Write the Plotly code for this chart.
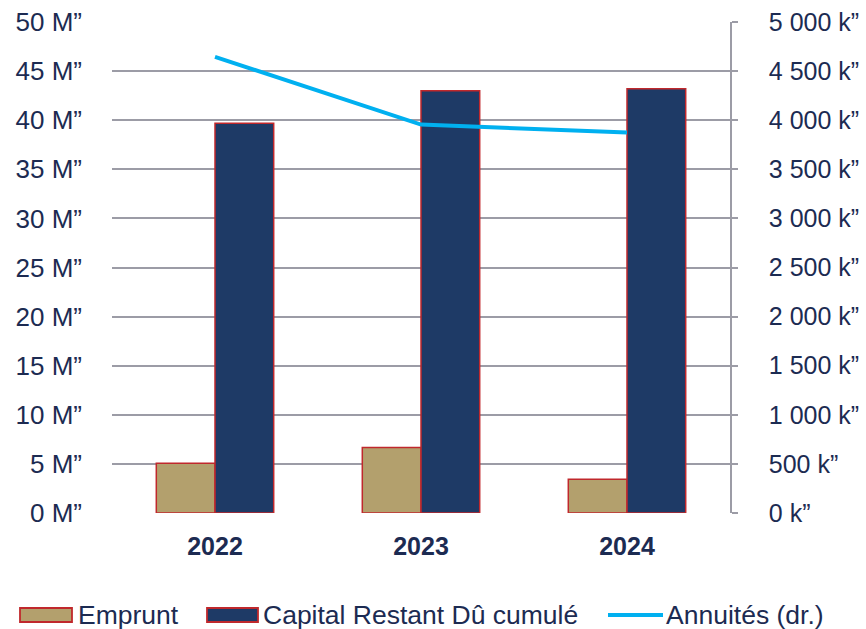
import plotly.graph_objects as go

# Données
years = ["2022", "2023", "2024"]
emprunt_m = [5.07, 6.67, 3.44]          # M€
capital_m = [39.7, 43.0, 43.2]          # M€
annuites_k = [4645, 3955, 3875]         # k€ (axe de droite)

left_ticks = [0, 5, 10, 15, 20, 25, 30, 35, 40, 45, 50]
left_labels = [f"{v} M\u201d" for v in left_ticks]
right_ticks = [0, 500, 1000, 1500, 2000, 2500, 3000, 3500, 4000, 4500, 5000]
right_labels = [f"{v:,}".replace(",", " ") + " k\u201d" for v in right_ticks]

series_names = ["Emprunt", "Capital Restant D\u00fb cumul\u00e9", "Annuit\u00e9s (dr.)"]

TEXT = "#1C2B52"
GRID = "#9C9CA6"
TAN = "#B3A06D"
NAVY = "#1E3A66"
RED = "#C0282C"
CYAN = "#00B0F0"
FONT = "Arial, Liberation Sans, sans-serif"

W, H = 866, 629
L, R, T, B = 112, 136, 22, 116

fig = go.Figure()
fig.add_trace(go.Bar(x=years, y=emprunt_m, name=series_names[0],
                     marker=dict(color=TAN, line=dict(color=RED, width=1.5))))
fig.add_trace(go.Bar(x=years, y=capital_m, name=series_names[1],
                     marker=dict(color=NAVY, line=dict(color=RED, width=1.5))))
fig.add_trace(go.Scatter(x=years, y=annuites_k, name=series_names[2], yaxis="y2",
                         mode="lines", line=dict(color=CYAN, width=4)))

fig.update_layout(
    width=W, height=H,
    margin=dict(l=L, r=R, t=T, b=B),
    paper_bgcolor="white", plot_bgcolor="white",
    barmode="group", bargap=0.43, bargroupgap=0,
    showlegend=False,
    font=dict(family=FONT, color=TEXT, size=25),
    xaxis=dict(showgrid=False, showline=False, ticks="", automargin=False,
               tickfont=dict(size=25, color=TEXT, family=FONT, weight="bold"),
               ticklabelstandoff=16, zeroline=False),
    yaxis=dict(range=[0, 50], tickvals=left_ticks, ticktext=left_labels,
               showgrid=True, gridcolor=GRID, gridwidth=1.6, zeroline=False,
               showline=False, ticks="", ticklabelstandoff=29, automargin=False,
               tickfont=dict(size=26, color=TEXT)),
    yaxis2=dict(range=[0, 5000], tickvals=right_ticks, ticktext=right_labels,
                overlaying="y", side="right", showgrid=False, zeroline=False,
                showline=True, linecolor=GRID, linewidth=1.6, automargin=False,
                ticks="outside", ticklen=6, tickcolor=GRID, tickwidth=1.6,
                ticklabelstandoff=26, tickfont=dict(size=25, color=TEXT)),
)

# Légende dessinée (rectangles larges + texte)
pw, ph = W - L - R, H - T - B
def px(x):
    return (x - L) / pw
def py(y):
    return (H - B - y) / ph

legend_y0, legend_y1 = 608, 622
items = [
    dict(kind="bar", color=TAN, x0=20, x1=72, tx=76, name=series_names[0]),
    dict(kind="bar", color=NAVY, x0=207, x1=258, tx=261, name=series_names[1]),
    dict(kind="line", color=CYAN, x0=608, x1=663, tx=664, name=series_names[2]),
]
for it in items:
    if it["kind"] == "bar":
        fig.add_shape(type="rect", xref="paper", yref="paper",
                      x0=px(it["x0"]), x1=px(it["x1"]), y0=py(legend_y1), y1=py(legend_y0),
                      fillcolor=it["color"], line=dict(color=RED, width=1.8))
    else:
        ym = py((legend_y0 + legend_y1) / 2)
        fig.add_shape(type="line", xref="paper", yref="paper",
                      x0=px(it["x0"]), x1=px(it["x1"]), y0=ym, y1=ym,
                      line=dict(color=it["color"], width=4))
    fig.add_annotation(xref="paper", yref="paper", x=px(it["tx"]),
                       y=py((legend_y0 + legend_y1) / 2), text=it["name"],
                       showarrow=False, xanchor="left", yanchor="middle",
                       font=dict(size=26.5, color=TEXT, family=FONT))

fig.write_html("out.html")
